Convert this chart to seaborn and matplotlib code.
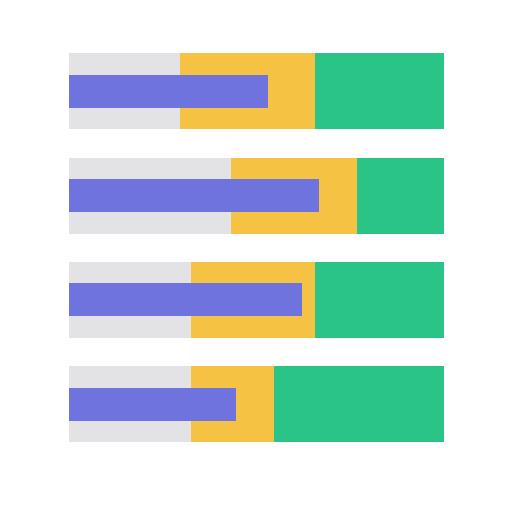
import matplotlib
matplotlib.use("Agg")
import matplotlib.pyplot as plt
import seaborn as sns
import pandas as pd

# bullet chart: qualitative ranges + measured value
rows = ["Row 1", "Row 2", "Row 3", "Row 4"]
poor = [29.6, 43.2, 32.4, 32.4]
ok = [65.6, 76.7, 65.6, 54.7]
good = [100, 100, 100, 100]
value = [53.0, 66.6, 62.0, 44.4]

df = pd.DataFrame({"row": rows, "poor": poor, "ok": ok, "good": good, "value": value})

sns.set_style("white")
fig = plt.figure(figsize=(5.12, 5.12), dpi=100)
ax = fig.add_axes([0.1348, 0.109, 0.7324, 0.8143])

kw = dict(data=df, y="row", saturation=1, linewidth=0, ax=ax)
sns.barplot(x="good", color="#2ac487", width=0.73, **kw)
sns.barplot(x="ok", color="#f5c244", width=0.73, **kw)
sns.barplot(x="poor", color="#e3e3e5", width=0.73, **kw)
sns.barplot(x="value", color="#6e73de", width=0.317, **kw)

ax.set_xlim(0, 100)
ax.set_ylim(3.5, -0.5)
ax.axis("off")

fig.savefig("out.png", dpi=100)
